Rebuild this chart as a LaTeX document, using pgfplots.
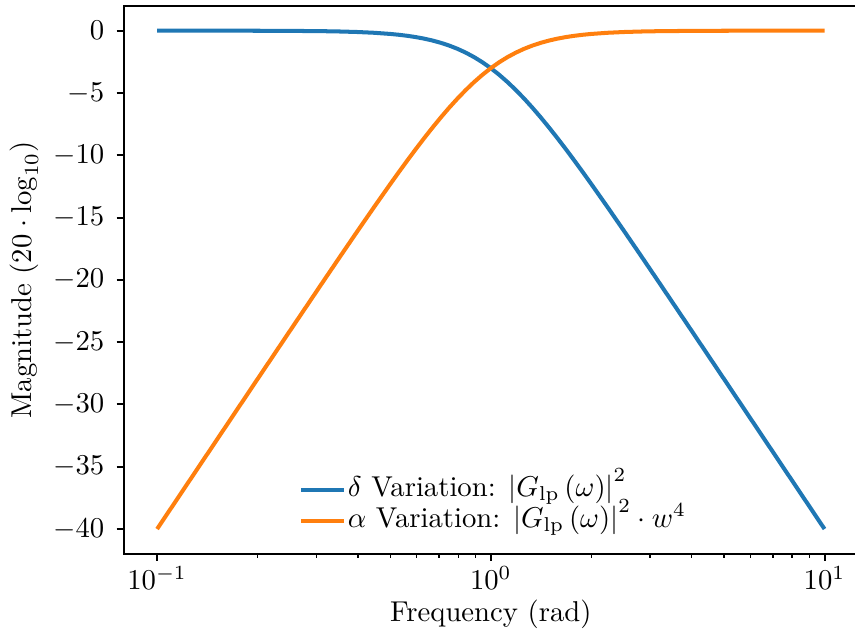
\documentclass[border=0pt]{standalone}
\usepackage{pgfplots}
\usepackage{pgfplotstable}
\pgfplotsset{compat=1.18}
\definecolor{c0}{HTML}{1F77B4}
\definecolor{c1}{HTML}{FF7F0E}
\pgfplotstableread{
w blue orange
0.1 -0.0004 -40.0004
0.12589 -0.0011 -36.0011
0.15849 -0.0027 -32.0027
0.19953 -0.0069 -28.0069
0.25119 -0.0173 -24.0173
0.31623 -0.0432 -20.0432
0.35481 -0.0683 -18.0683
0.39811 -0.1077 -16.1077
0.44668 -0.1695 -14.1695
0.50119 -0.2657 -12.2657
0.53088 -0.3319 -11.3319
0.56234 -0.4139 -10.4139
0.59566 -0.5150 -9.5150
0.63096 -0.6389 -8.6389
0.66834 -0.7901 -7.7901
0.70795 -0.9733 -6.9733
0.74989 -1.1933 -6.1933
0.79433 -1.4554 -5.4554
0.84140 -1.7644 -4.7644
0.89125 -2.1243 -4.1243
0.94406 -2.5391 -3.5391
1 -3.0103 -3.0103
1.05925 -3.5391 -2.5391
1.12202 -4.1243 -2.1243
1.18850 -4.7644 -1.7644
1.25893 -5.4554 -1.4554
1.33352 -6.1933 -1.1933
1.41254 -6.9733 -0.9733
1.49624 -7.7901 -0.7901
1.58489 -8.6389 -0.6389
1.67880 -9.5150 -0.5150
1.77828 -10.4139 -0.4139
1.88365 -11.3319 -0.3319
1.99526 -12.2657 -0.2657
2.23872 -14.1695 -0.1695
2.51189 -16.1077 -0.1077
2.81838 -18.0683 -0.0683
3.16228 -20.0432 -0.0432
3.98107 -24.0173 -0.0173
5.01187 -28.0069 -0.0069
6.30957 -32.0027 -0.0027
7.94328 -36.0011 -0.0011
10 -40.0004 -0.0004
}\datatable
\begin{document}
\begin{tikzpicture}
\begin{axis}[
  name=ax,
  at={(0,0)}, anchor=south west,
  scale only axis,
  width=255.8pt, height=191.0pt,
  xmode=log,
  xmin=0.07943, xmax=12.589,
  ymin=-42, ymax=2,
  xtick={0.1,1,10},
  ytick={-40,-35,-30,-25,-20,-15,-10,-5,0},
  xtick pos=bottom, ytick pos=left,
  tick align=outside,
  major tick length=2.44pt,
  minor tick length=1.4pt,
  every tick/.style={black, line width=0.7pt},
  minor tick style={line width=0.5pt},
  axis line style={line width=0.75pt},
  yticklabel style={xshift=-0.8pt},
  xticklabel style={yshift=1.6pt},
  xlabel={Frequency (rad)},
  ylabel={Magnitude $(20\cdot\log_{10})$},
  xlabel style={at={(axis description cs:0.5,-0.1178)}, anchor=base, yshift=-1pt},
  ylabel style={at={(axis description cs:-0.136,0.5)}, anchor=center},
  legend style={at={(axis description cs:0.2385,0.030)}, anchor=south west,
    draw=none, fill=none, inner sep=0pt, row sep=0pt,
    nodes={inner sep=0.5pt, text height=6.9pt, text depth=2.9pt},
    /tikz/every even column/.append style={column sep=2.2pt}},
  legend cell align=left,
  legend image code/.code={\draw[#1] (0pt,0pt) -- (15pt,0pt);},
]
\addplot[c0, line width=1.4pt] table[x=w, y=blue] {\datatable};
\addlegendentry{$\delta$ Variation: $\left|G_{\mathrm{lp}}\left(\omega\right)\right|^2$}
\addplot[c1, line width=1.4pt] table[x=w, y=orange] {\datatable};
\addlegendentry{$\alpha$ Variation: $\left|G_{\mathrm{lp}}\left(\omega\right)\right|^2\cdot w^4$}
\end{axis}
\pgfresetboundingbox
\useasboundingbox ([shift={(-43.1pt,-26.2pt)}]ax.south west) rectangle ([shift={(-1.0pt,2.0pt)}]ax.north east);
\end{tikzpicture}
\end{document}
